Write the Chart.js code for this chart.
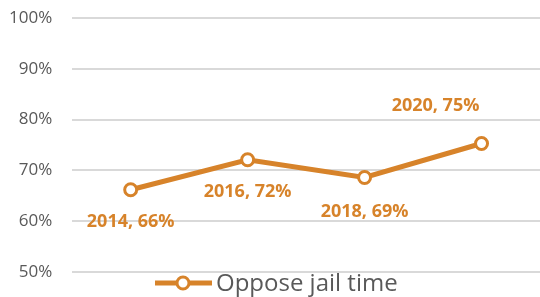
<!DOCTYPE html>
<html>
<head>
<meta charset="utf-8">
<script src="https://cdn.jsdelivr.net/npm/chart.js@4"></script>
<style>
  html, body { margin: 0; padding: 0; background: #fff; }
  #wrap { width: 540px; height: 297px; }
</style>
</head>
<body>
<div id="wrap"><canvas id="chart"></canvas></div>
<script>
// Chart data
const years = ['2014', '2016', '2018', '2020'];
const opposeValues = [66.2, 72.1, 68.6, 75.3];
const labelValues = [66, 72, 69, 75];
const yTicks = [50, 60, 70, 80, 90, 100];
const seriesName = 'Oppose jail time';

const orange = '#D7832A';
const gray = '#595959';

// Label offsets from each point (dx, dy)
const labelOffsets = [[0, 32], [0, 32], [0, 34], [-46, -38]];

// Draw "year, value%" labels next to points
const pointLabels = {
    id: 'pointLabels',
    afterDatasetsDraw(chart) {
        const ctx = chart.ctx;
        const meta = chart.getDatasetMeta(0);
        ctx.save();
        ctx.font = 'bold 18px "Open Sans"';
        ctx.fillStyle = orange;
        ctx.textAlign = 'center';
        ctx.textBaseline = 'middle';
        meta.data.forEach((pt, i) => {
            const [dx, dy] = labelOffsets[i];
            ctx.fillText(`${years[i]}, ${labelValues[i]}%`, pt.x + dx, pt.y + dy);
        });
        ctx.restore();
    }
};

// Bottom legend: line with hollow circle + series name
const lineLegend = {
    id: 'lineLegend',
    afterDraw(chart) {
        const ctx = chart.ctx;
        const y = 283;
        const x0 = 155;
        ctx.save();
        ctx.strokeStyle = orange;
        ctx.lineWidth = 5;
        ctx.beginPath();
        ctx.moveTo(x0, y);
        ctx.lineTo(x0 + 57, y);
        ctx.stroke();
        ctx.fillStyle = '#fff';
        ctx.lineWidth = 3;
        ctx.beginPath();
        ctx.arc(x0 + 28, y, 6, 0, Math.PI * 2);
        ctx.fill();
        ctx.stroke();
        ctx.font = '24px "Open Sans"';
        ctx.fillStyle = gray;
        ctx.textAlign = 'left';
        ctx.textBaseline = 'middle';
        ctx.fillText(seriesName, x0 + 61, y + 1);
        ctx.restore();
    }
};

const ctx = document.getElementById('chart').getContext('2d');
new Chart(ctx, {
    type: 'line',
    data: {
        labels: years,
        datasets: [{
            label: seriesName,
            data: opposeValues,
            borderColor: orange,
            borderWidth: 5,
            pointRadius: 6,
            pointBorderWidth: 3,
            pointBackgroundColor: '#fff',
            pointBorderColor: orange,
            tension: 0
        }]
    },
    options: {
        responsive: true,
        maintainAspectRatio: false,
        animation: false,
        layout: { autoPadding: false, padding: { top: 18, right: 0, left: 9, bottom: 25 } },
        plugins: {
            tooltip: { enabled: false },
            legend: { display: false }
        },
        scales: {
            x: {
                display: false,
                offset: true
            },
            y: {
                min: 50,
                max: 100,
                afterBuildTicks: (axis) => { axis.ticks = yTicks.map(v => ({ value: v })); },
                border: { display: false },
                grid: {
                    color: '#d9d9d9',
                    lineWidth: 2,
                    drawTicks: true,
                    tickLength: 20,
                    tickColor: 'rgba(0,0,0,0)'
                },
                ticks: {
                    padding: 0,
                    color: gray,
                    font: { family: 'Open Sans', size: 17 },
                    callback: (v) => v + '%'
                }
            }
        }
    },
    plugins: [pointLabels, lineLegend]
});
</script>
</body>
</html>
